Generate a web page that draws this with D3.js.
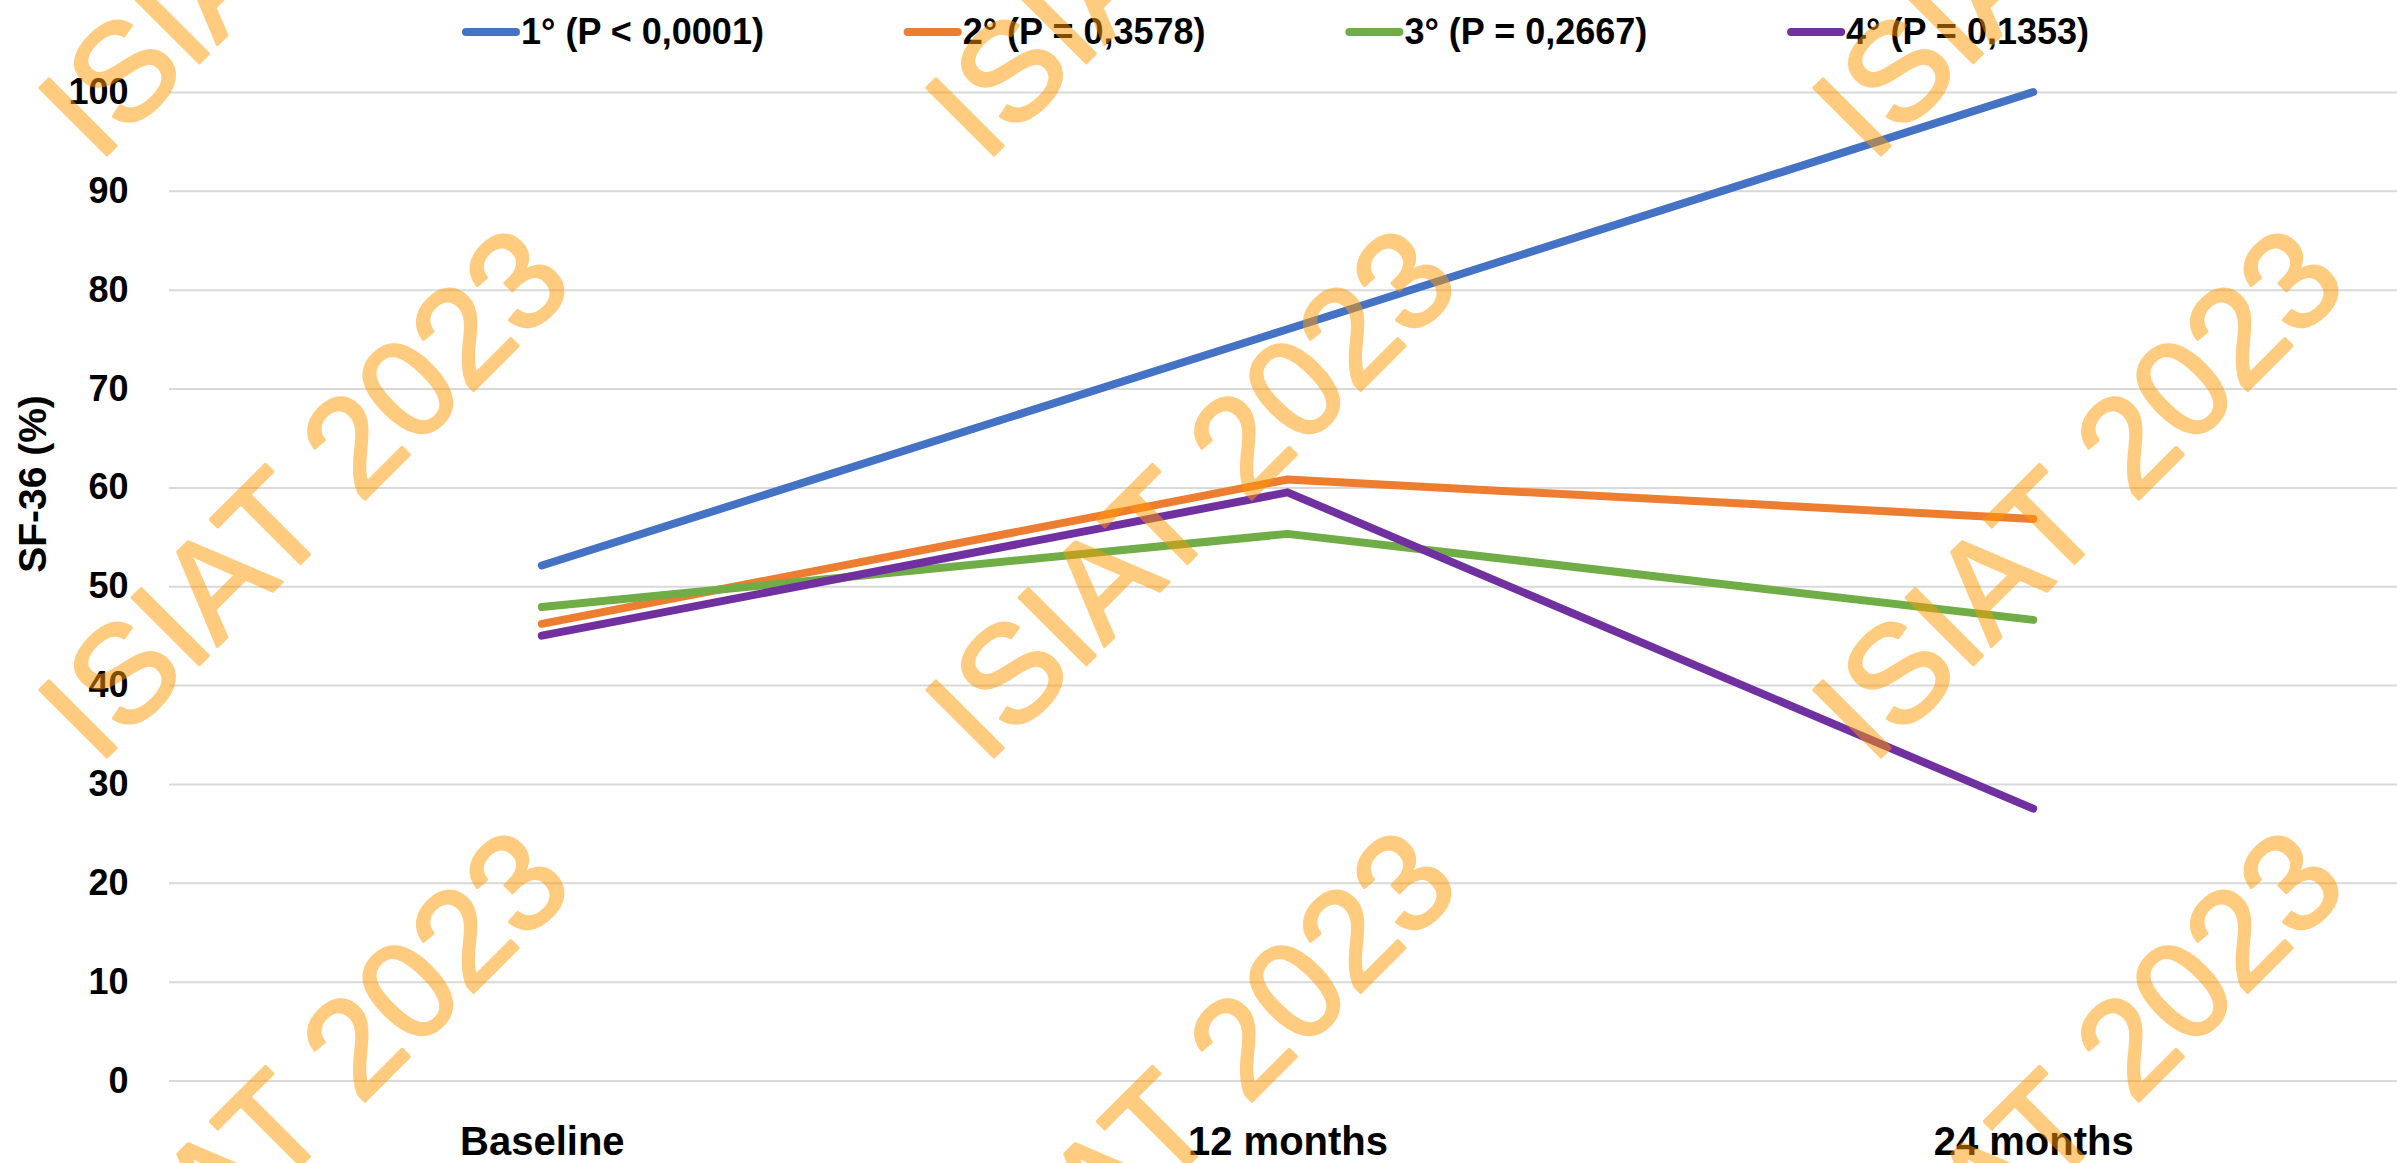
<!DOCTYPE html>
<html>
<head>
<meta charset="utf-8">
<script src="https://cdn.jsdelivr.net/npm/d3@7"></script>
<style>
  html, body { margin: 0; padding: 0; background: #ffffff; }
  svg { display: block; }
  text { font-family: "Liberation Sans", Arial, sans-serif; }
</style>
</head>
<body>
<svg id="chart" width="2397" height="1163"></svg>
<script>
// SF-36 score over follow-up, by grade
const categories = ["Baseline", "12 months", "24 months"];
const seriesNames = ["1° (P < 0,0001)", "2° (P = 0,3578)", "3° (P = 0,2667)", "4° (P = 0,1353)"];
const grade1 = [52.1, 76.0, 100];
const grade2 = [46.2, 60.8, 56.8];
const grade3 = [47.9, 55.3, 46.6];
const grade4 = [45.0, 59.5, 27.5];
const yTicks = [0, 10, 20, 30, 40, 50, 60, 70, 80, 90, 100];
const colors = ["#4472C4", "#ED7D31", "#70AD47", "#7030A0"];

const series = [grade1, grade2, grade3, grade4].map((values, i) => ({
  name: seriesNames[i], color: colors[i],
  points: values.map((v, j) => ({ cat: categories[j], value: v }))
}));

const W = 2397, H = 1163;
const plot = { left: 169, right: 2406, top: 92, bottom: 1080.5 };

const svg = d3.select("#chart");

const x = d3.scalePoint().domain(categories).range([plot.left, plot.right]).padding(0.5);
const y = d3.scaleLinear().domain([0, 100]).range([plot.bottom, plot.top]);

// horizontal gridlines + value labels
const yAxis = svg.append("g")
  .attr("transform", `translate(${plot.left},0)`)
  .call(d3.axisLeft(y).tickValues(yTicks).tickSize(-(W - plot.left)).tickPadding(40.5).tickFormat(d3.format("d")));
yAxis.select(".domain").remove();
yAxis.selectAll(".tick line").attr("stroke", "#D9D9D9").attr("stroke-width", 2);
yAxis.selectAll(".tick text")
  .attr("fill", "#000").attr("font-size", 36).attr("font-weight", "bold")
  .attr("font-family", "'Liberation Sans', Arial, sans-serif");

// category labels
const xAxis = svg.append("g")
  .attr("transform", `translate(0,${plot.bottom})`)
  .call(d3.axisBottom(x).tickSize(0).tickPadding(46));
xAxis.select(".domain").remove();
xAxis.selectAll(".tick text")
  .attr("fill", "#000").attr("font-size", 40).attr("font-weight", "bold")
  .attr("font-family", "'Liberation Sans', Arial, sans-serif");

// axis title
svg.append("text")
  .attr("transform", "translate(46,484) rotate(-90)")
  .attr("text-anchor", "middle")
  .attr("font-size", 39).attr("font-weight", "bold")
  .text("SF-36 (%)");

// series lines
const line = d3.line().x(d => x(d.cat)).y(d => y(d.value));
svg.append("g").selectAll("path")
  .data(series)
  .join("path")
  .attr("d", d => line(d.points))
  .attr("fill", "none")
  .attr("stroke", d => d.color)
  .attr("stroke-width", 8)
  .attr("stroke-linecap", "round")
  .attr("stroke-linejoin", "round");

// legend
const legendStart = 462, legendSlot = 441.7;
const legend = svg.append("g").selectAll("g")
  .data(series)
  .join("g")
  .attr("transform", (d, i) => `translate(${legendStart + i * legendSlot},0)`);
legend.append("line")
  .attr("x1", 4).attr("x2", 54).attr("y1", 32).attr("y2", 32)
  .attr("stroke", d => d.color).attr("stroke-width", 8).attr("stroke-linecap", "round");
legend.append("text")
  .attr("x", 59).attr("y", 44)
  .attr("font-size", 36).attr("font-weight", "bold")
  .text(d => d.name);

// repeated watermark
const markCols = [98, 985, 1872];
const markRows = [164, 766, 1368];
const marks = svg.append("g").attr("pointer-events", "none");
markRows.forEach(ry => markCols.forEach(cx => {
  marks.append("text")
    .attr("transform", `translate(${cx},${ry}) rotate(-45)`)
    .attr("font-size", 138)
    .attr("fill", "#FF9900")
    .attr("stroke", "#FF9900")
    .attr("stroke-width", 3)
    .attr("stroke-linejoin", "round")
    .attr("opacity", 0.5)
    .text("ISIAT 2023");
}));
</script>
</body>
</html>
